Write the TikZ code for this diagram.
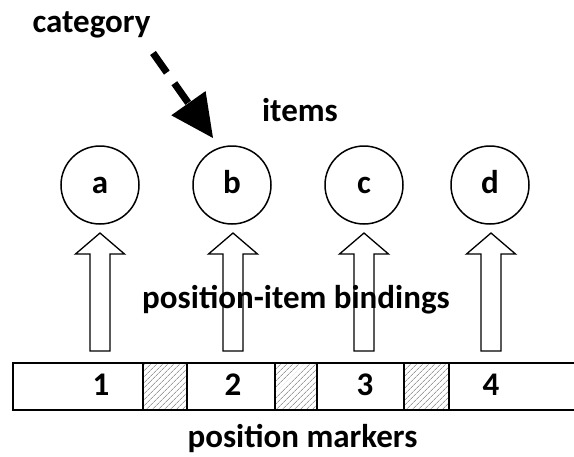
\documentclass[tikz,border=0pt]{standalone}
\usepackage{fontspec}
\setmainfont{Carlito}
\usetikzlibrary{calc,patterns.meta}
\begin{document}
\begin{tikzpicture}[x=1pt,y=-1pt,
  lbl/.style={font=\fontsize{33}{39}\selectfont\bfseries, inner sep=0pt, anchor=base},
  item/.style={circle, draw, line width=1.5pt, minimum size=78pt, inner sep=0pt},
  hatchbox/.style={draw, line width=1.3pt, pattern={Lines[angle=45,distance=4pt,line width=0.6pt]}, pattern color=black!60},
  blockarrow/.style={draw, line width=1.3pt, line join=miter},
  catarrow/.style={line width=7pt, dash pattern=on 24pt off 13pt},
]
\useasboundingbox (0,0) rectangle (574,456);

% items (circles)
\foreach \n/\x in {a/100,b/232,c/364,d/490}{
  \node[item] (\n) at (\x,185) {};
  \node[lbl] (t\n) at (\x,193) {\n};
}

% position bar
\draw[line width=2pt] (574,363) -- (12.7,363) -- (12.7,410) -- (574,410);
\node[hatchbox, minimum width=44pt, minimum height=47pt, anchor=center] (h1) at (165,386.5) {};
\node[hatchbox, minimum width=42pt, minimum height=47pt, anchor=center] (h2) at (296,386.5) {};
\node[hatchbox, minimum width=45pt, minimum height=47pt, anchor=center] (h3) at (426.5,386.5) {};
\foreach \k/\x in {1/101,2/233,3/365,4/491}{
  \node[lbl] (p\k) at (\x,395) {\k};
}

% position-item binding arrows
\foreach \k/\c in {1/100,2/233,3/364,4/491}{
  \coordinate (bt\k) at (\c,233);
  \draw[blockarrow] (bt\k) -- ++(24.5,21) -- ++(-14.5,0) -- ++(0,97) -- ++(-20,0) -- ++(0,-97) -- ++(-14.5,0) -- cycle;
}

% labels
\node[lbl] (category) at (91.5,32) {category};
\node[lbl] (items) at (300,121) {items};
\node[lbl] (bindings) at (296,308) {position-item bindings};
\node[lbl] (markers) at (302.5,447) {position markers};

% category arrow
\coordinate (catTail) at (153,53);
\coordinate (catTip) at (213,138);
\coordinate (catBase) at ($(catTip)!42.6pt!(catTail)$);
\draw[catarrow] (catTail) -- (catBase);
\fill (catTip) -- ($(catBase)!21pt!90:(catTip)$) -- ($(catBase)!21pt!-90:(catTip)$) -- cycle;
\end{tikzpicture}
\end{document}
